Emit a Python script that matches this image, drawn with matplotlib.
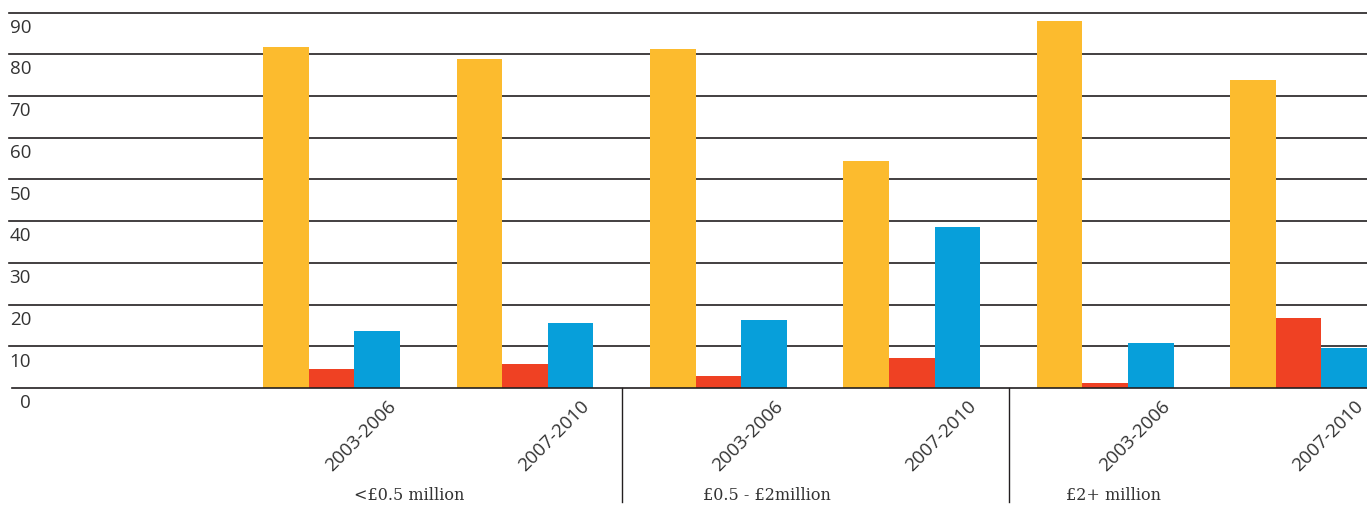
import matplotlib
matplotlib.use("Agg")
import matplotlib.pyplot as plt
import matplotlib.transforms as mtransforms
import numpy as np

# ---- data ----
periods = ["2003-2006", "2007-2010", "2003-2006", "2007-2010", "2003-2006", "2007-2010"]
size_bands = ["<£0.5 million", "£0.5 - £2million", "£2+ million"]
series_yellow = [81.7, 78.8, 81.2, 54.4, 87.9, 73.8]
series_red = [4.5, 5.7, 2.9, 7.1, 1.1, 16.7]
series_blue = [13.7, 15.6, 16.3, 38.5, 10.7, 9.5]
y_ticks = [0, 10, 20, 30, 40, 50, 60, 70, 80, 90]

# ---- style ----
C_YELLOW = "#FCBB2E"
C_RED = "#EF4123"
C_BLUE = "#079FDA"
C_LINE = "#231F20"
C_TEXT = "#333333"

W, H = 1367, 507
fig = plt.figure(figsize=(W / 100, H / 100), dpi=100)
base_px, top_px = 388, 12.5
ax = fig.add_axes([0, (H - base_px) / H, 1, (base_px - top_px) / H])

x = np.arange(len(periods))
bw = 45.7 / 194
ax.bar(x - bw, series_yellow, bw, color=C_YELLOW, zorder=3)
ax.bar(x, series_red, bw, color=C_RED, zorder=3)
ax.bar(x + bw, series_blue, bw, color=C_BLUE, zorder=3)

ax.set_xlim(-332.5 / 194, (W - 332.5) / 194)
ax.set_ylim(0, 90)

for s in ax.spines.values():
    s.set_visible(False)

# gridlines
for yv in y_ticks:
    xmin = (12 if yv == 0 else 9) / W
    ax.axhline(yv, xmin=xmin, xmax=1, color=C_LINE, lw=1.2, zorder=2 if yv else 4, clip_on=False)

# y tick labels (below each gridline, right aligned)
ax.set_yticks([])
off = mtransforms.ScaledTranslation(0, -11 / 72, fig.dpi_scale_trans)
ytrans = mtransforms.blended_transform_factory(ax.transAxes, ax.transData) + off
for yv in y_ticks:
    ax.text(31 / W, yv, str(yv), transform=ytrans,
            ha="right", va="center", fontsize=13.5, color=C_TEXT, family="Open Sans")

# x tick labels (rotated)
ax.set_xticks(x + 1.5 * bw)
ax.set_xticklabels(periods, rotation=45, ha="right", fontsize=13.5, color=C_TEXT, family="Open Sans")
ax.tick_params(axis="x", length=0, pad=7)

# separators between size bands
trans = mtransforms.blended_transform_factory(ax.transData, ax.transAxes)
bottom_ax = -(502 - base_px) / (base_px - top_px)
for sx in [1.5, 3.5]:
    ax.plot([sx, sx], [0, bottom_ax], color=C_LINE, lw=1.0, transform=trans, clip_on=False)

# size band labels
band_pos = [(410 - 332.5) / 194, (769 - 332.5) / 194, (1117 - 332.5) / 194]
label_y = -(496 - base_px) / (base_px - top_px)
for bx, lab in zip(band_pos, size_bands):
    ax.text(bx, label_y, lab, transform=trans, ha="center", va="center",
            fontsize=11.5, color=C_TEXT, family="DejaVu Serif")

fig.savefig("out.png", dpi=100)
